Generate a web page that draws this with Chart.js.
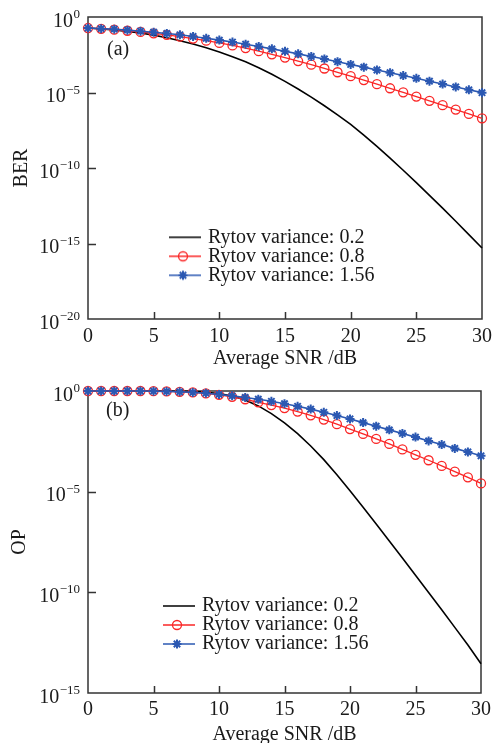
<!DOCTYPE html>
<html><head><meta charset="utf-8">
<script src="https://cdn.jsdelivr.net/npm/chart.js@4/dist/chart.umd.min.js"></script>
<style>
html,body{margin:0;padding:0;background:#fff;}
#wrap{position:relative;width:492px;height:743px;overflow:hidden;background:#fff;}
.box{position:absolute;left:0;width:492px;}
canvas{display:block;}
</style></head><body>
<div id="wrap">
  <div class="box" style="top:0;height:370px"><canvas id="c1" width="492" height="370" style="width:492px;height:370px"></canvas></div>
  <div class="box" style="top:370px;height:373px"><canvas id="c2" width="492" height="373" style="width:492px;height:373px"></canvas></div>
</div>
<script>
// ---------------- DATA (log10 of the plotted quantity) ----------------
const snrDb = [0,1,2,3,4,5,6,7,8,9,10,11,12,13,14,15,16,17,18,19,20,21,22,23,24,25,26,27,28,29,30];
const seriesNames = ['Rytov variance: 0.2', 'Rytov variance: 0.8', 'Rytov variance: 1.56'];
const xTickLabels = [0, 5, 10, 15, 20, 25, 30];
const berTickExponents = [0, -5, -10, -15, -20];
const opTickExponents = [0, -5, -10, -15];

// (a) BER, log10 values
const berLog02 = [-0.73,-0.79,-0.86,-0.95,-1.06,-1.20,-1.37,-1.57,-1.79,-2.04,-2.32,-2.63,-2.97,-3.36,-3.79,-4.26,-4.77,-5.31,-5.88,-6.48,-7.11,-7.82,-8.57,-9.35,-10.15,-10.97,-11.81,-12.66,-13.53,-14.41,-15.30];
const berLog08 = [-0.73,-0.78,-0.84,-0.91,-0.99,-1.08,-1.18,-1.30,-1.43,-1.57,-1.72,-1.88,-2.06,-2.26,-2.47,-2.69,-2.92,-3.16,-3.41,-3.66,-3.92,-4.18,-4.45,-4.72,-4.99,-5.27,-5.55,-5.84,-6.13,-6.42,-6.71];
const berLog156 = [-0.73,-0.77,-0.81,-0.87,-0.94,-1.01,-1.09,-1.18,-1.29,-1.41,-1.53,-1.66,-1.80,-1.95,-2.11,-2.27,-2.44,-2.61,-2.78,-2.96,-3.14,-3.32,-3.51,-3.69,-3.88,-4.06,-4.25,-4.44,-4.63,-4.82,-5.01];

// (b) OP, log10 values
const opLog02 = [0,0,0,0,0,0,-0.005,-0.01,-0.02,-0.06,-0.13,-0.25,-0.45,-0.74,-1.12,-1.58,-2.12,-2.73,-3.41,-4.16,-4.96,-5.78,-6.61,-7.45,-8.30,-9.15,-10.01,-10.87,-11.74,-12.62,-13.55];
const opLog08 = [0,0,0,0,0,-0.01,-0.02,-0.04,-0.07,-0.12,-0.19,-0.29,-0.41,-0.56,-0.70,-0.85,-1.02,-1.21,-1.42,-1.65,-1.89,-2.13,-2.38,-2.63,-2.90,-3.17,-3.44,-3.72,-4.00,-4.29,-4.59];
const opLog156 = [0,0,0,0,0,-0.01,-0.02,-0.04,-0.07,-0.11,-0.17,-0.24,-0.32,-0.41,-0.51,-0.63,-0.76,-0.90,-1.06,-1.22,-1.39,-1.57,-1.75,-1.93,-2.11,-2.29,-2.48,-2.66,-2.85,-3.03,-3.22];

// ---------------- STYLE ----------------
const FONT = 'Liberation Serif';
const COL_BLACK = '#000000';
const COL_RED = 'rgb(250,38,38)';
const COL_BLUE = 'rgb(43,88,178)';
const AXIS_COL = '#333333';

function makeIcon(kind) {
  const c = document.createElement('canvas');
  c.width = 36; c.height = 20;
  const g = c.getContext('2d');
  const col = kind === 0 ? COL_BLACK : (kind === 1 ? COL_RED : COL_BLUE);
  g.strokeStyle = col;
  g.lineWidth = kind === 1 ? 1.3 : 1.6;
  g.beginPath(); g.moveTo(0, 10); g.lineTo(36, 10); g.stroke();
  if (kind === 1) {
    g.lineWidth = 1.3;
    g.beginPath(); g.arc(18, 10, 4.5, 0, Math.PI * 2); g.stroke();
  } else if (kind === 2) {
    g.lineWidth = 2;
    const r = 4.5;
    g.beginPath();
    for (let k = 0; k < 4; k++) {
      const a = k * Math.PI / 4;
      g.moveTo(18 - r * Math.cos(a), 10 - r * Math.sin(a));
      g.lineTo(18 + r * Math.cos(a), 10 + r * Math.sin(a));
    }
    g.stroke();
  }
  return c;
}
const icons = [makeIcon(0), makeIcon(1), makeIcon(2)];

const decor = {
  id: 'decor',
  afterLayout(chart, args, o) {
    const lg = chart.legend;
    if (!lg) return;
    lg.left = o.legendX; lg.top = o.legendY;
    lg.width = 300; lg.height = 90;
    lg.right = o.legendX + 300; lg.bottom = o.legendY + 90;
  },
  beforeDatasetsDraw(chart, args, o) {
    const ctx = chart.ctx, a = chart.chartArea, xs = chart.scales.x, ys = chart.scales.y;
    ctx.save();
    ctx.strokeStyle = AXIS_COL;
    ctx.lineWidth = 1.5;
    ctx.strokeRect(a.left, a.top, a.right - a.left, a.bottom - a.top);
    ctx.beginPath();
    xTickLabels.forEach(v => {
      if (v === xs.min || v === xs.max) return;
      const px = Math.round(xs.getPixelForValue(v)) + 0.5;
      ctx.moveTo(px, a.bottom); ctx.lineTo(px, a.bottom - 7);
    });
    o.yTicks.forEach(e => {
      const v = Math.pow(10, e);
      if (v >= ys.max || v <= ys.min) return;
      const py = Math.round(ys.getPixelForValue(v)) + 0.5;
      ctx.moveTo(a.left, py); ctx.lineTo(a.left + 8, py);
    });
    ctx.stroke();
    ctx.restore();
  },
  afterDraw(chart, args, o) {
    const ctx = chart.ctx, a = chart.chartArea, xs = chart.scales.x, ys = chart.scales.y;
    ctx.save();
    ctx.fillStyle = '#1a1a1a';
    // x tick labels
    ctx.font = '20px "' + FONT + '"';
    ctx.textAlign = 'center'; ctx.textBaseline = 'middle';
    xTickLabels.forEach(v => {
      ctx.fillText(String(v), xs.getPixelForValue(v), a.bottom + o.xTickDy);
    });
    // x title
    ctx.fillText('Average SNR /dB', (a.left + a.right) / 2, a.bottom + o.xTitleDy);
    // y tick labels 10^e
    o.yTicks.forEach(e => {
      const py = ys.getPixelForValue(Math.pow(10, e));
      const sup = e === 0 ? '0' : '\u2212' + String(-e);
      ctx.textAlign = 'right'; ctx.textBaseline = 'alphabetic';
      ctx.font = '13px "' + FONT + '"';
      const sw = ctx.measureText(sup).width;
      ctx.fillText(sup, a.left - 8, py + 1);
      ctx.font = '20px "' + FONT + '"';
      ctx.fillText('10', a.left - 8 - sw - 0.5, py + 9.5);
    });
    // y title
    ctx.save();
    ctx.font = '20px "' + FONT + '"';
    ctx.textAlign = 'center'; ctx.textBaseline = 'middle';
    ctx.translate(o.yTitleX, (a.top + a.bottom) / 2);
    ctx.rotate(-Math.PI / 2);
    ctx.fillText(o.yTitle, 0, 0);
    ctx.restore();
    // panel label
    ctx.font = '20px "' + FONT + '"';
    ctx.textAlign = 'left'; ctx.textBaseline = 'middle';
    ctx.fillText(o.panel, o.panelX, o.panelY);
    ctx.restore();
  }
};

function buildChart(id, logs, yMinExp, opts, area, H) {
  const pts = arr => snrDb.map((x, i) => ({ x: x, y: Math.pow(10, arr[i]) }));
  return new Chart(document.getElementById(id), {
    type: 'line',
    data: {
      datasets: [
        { label: seriesNames[0], data: pts(logs[0]), borderColor: COL_BLACK, borderWidth: 1.6,
          pointRadius: 0, tension: 0, order: 2, clip: false },
        { label: seriesNames[1], data: pts(logs[1]), borderColor: COL_RED, borderWidth: 1.3,
          pointStyle: 'circle', pointRadius: 4.5, pointBorderWidth: 1.3, pointBorderColor: COL_RED,
          pointBackgroundColor: 'rgba(255,255,255,0)', tension: 0, order: 1, clip: false },
        { label: seriesNames[2], data: pts(logs[2]), borderColor: COL_BLUE, borderWidth: 1.6,
          pointStyle: 'star', pointRadius: 4.5, pointBorderWidth: 2, pointBorderColor: COL_BLUE,
          pointBackgroundColor: COL_BLUE, tension: 0, order: 0, clip: false }
      ]
    },
    options: {
      responsive: false,
      animation: false,
      events: [],
      layout: { padding: { left: area.left, top: area.top, right: 492 - area.right, bottom: H - area.bottom } },
      scales: {
        x: { type: 'linear', min: 0, max: 30, display: false },
        y: { type: 'logarithmic', min: Math.pow(10, yMinExp), max: 1, display: false }
      },
      plugins: {
        tooltip: { enabled: false },
        legend: {
          position: 'chartArea', align: 'start',
          labels: {
            usePointStyle: true, pointStyleWidth: 30, boxHeight: 20, padding: -1,
            color: '#1a1a1a', font: { family: FONT, size: 20 },
            generateLabels(chart) {
              const items = Chart.defaults.plugins.legend.labels.generateLabels(chart);
              items.sort((p, q) => p.datasetIndex - q.datasetIndex);
              items.forEach(it => { it.pointStyle = icons[it.datasetIndex]; it.fontColor = '#1a1a1a'; });
              return items;
            }
          }
        },
        decor: opts
      }
    },
    plugins: [decor]
  });
}

buildChart('c1', [berLog02, berLog08, berLog156], -20, {
  yTicks: berTickExponents, yTitle: 'BER', yTitleX: 22, panel: '(a)', panelX: 107, panelY: 50,
  xTickDy: 17.5, xTitleDy: 39.5, legendX: 169, legendY: 228.3
}, { left: 88, top: 17, right: 482, bottom: 319 }, 370);

buildChart('c2', [opLog02, opLog08, opLog156], -15, {
  yTicks: opTickExponents, yTitle: 'OP', yTitleX: 20, panel: '(b)', panelX: 106, panelY: 41,
  xTickDy: 17, xTitleDy: 41.5, legendX: 163, legendY: 227
}, { left: 88, top: 21, right: 481, bottom: 323 }, 373);
</script>
</body></html>
